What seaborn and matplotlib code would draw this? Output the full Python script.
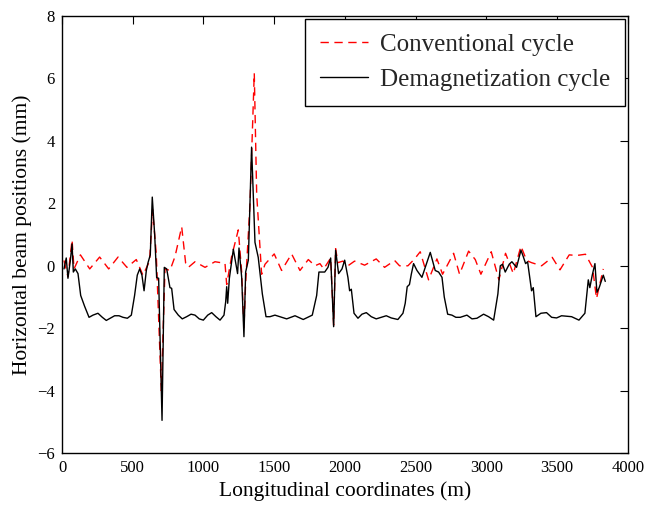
import matplotlib
matplotlib.use("Agg")
import matplotlib.pyplot as plt
import seaborn as sns
import pandas as pd

# Conventional cycle (red dashed)
conv_x = [14, 42, 71, 85, 130, 196, 266, 330, 396, 459, 525, 572, 619, 640, 666, 702,
          728, 763, 799, 846, 874, 893, 940, 1011, 1081, 1152, 1164, 1199, 1246, 1270, 1286,
          1298, 1329, 1359, 1376, 1411, 1435, 1500, 1552, 1623, 1682, 1741, 1788, 1823, 1850,
          1899, 1920, 1934, 1950, 1985, 2021, 2068, 2139, 2221, 2280, 2351, 2386, 2445, 2492,
          2532, 2591, 2650, 2690, 2768, 2810, 2874, 2921, 2961, 3034, 3088, 3135, 3190, 3244,
          3284, 3319, 3390, 3465, 3520, 3585, 3637, 3700, 3750, 3778, 3826]
conv_y = [0.17, -0.35, 0.83, -0.1, 0.35, -0.1, 0.28, -0.1, 0.28, -0.05, 0.2, -0.3, 0.15, 1.8, 0.4, -4.0,
          -0.1, -0.15, 0.3, 1.25, 0.08, -0.05, 0.13, -0.05, 0.13, 0.08, -0.6, 0.3, 1.15, -0.2, -2.0,
          -0.55, 2.0, 6.17, 2.3, -0.27, 0.05, 0.38, -0.15, 0.38, -0.15, 0.2, 0.0, 0.07, -0.1,
          0.25, -1.9, 0.55, 0.1, 0.15, 0.0, 0.15, 0.02, 0.22, -0.05, 0.17, 0.0, 0.0, 0.22,
          0.45, -0.45, 0.22, -0.27, 0.4, -0.27, 0.47, 0.2, -0.27, 0.45, -0.45, 0.4, -0.25, 0.63,
          0.17, 0.1, 0.0, 0.27, -0.13, 0.35, 0.33, 0.37, -0.05, -1.05, -0.1]

# Demagnetization cycle (black solid)
demag_x = [14, 30, 42, 59, 71, 80, 94, 113, 132, 160, 191, 219, 254, 285, 313, 344, 372, 403,
           431, 462, 490, 513, 532, 549, 565, 580, 596, 608, 624, 638, 655, 669, 683, 707,
           723, 740, 763, 775, 792, 822, 850, 881, 912, 940, 970, 999, 1030, 1058, 1088, 1117,
           1145, 1157, 1164, 1171, 1183, 1211, 1241, 1251, 1270, 1286, 1298, 1317, 1340, 1364,
           1387, 1416, 1442, 1470, 1505, 1540, 1588, 1647, 1705, 1769, 1800, 1816, 1857, 1880,
           1899, 1920, 1934, 1955, 1979, 1998, 2021, 2033, 2045, 2064, 2092, 2120, 2151, 2186,
           2221, 2257, 2292, 2327, 2374, 2410, 2426, 2440, 2456, 2469, 2485, 2509, 2544, 2603,
           2638, 2662, 2686, 2702, 2726, 2756, 2784, 2815, 2862, 2898, 2933, 2980, 3015, 3051,
           3081, 3098, 3114, 3133, 3161, 3180, 3213, 3244, 3260, 3277, 3291, 3319, 3331, 3350,
           3385, 3425, 3461, 3496, 3531, 3602, 3654, 3696, 3720, 3731, 3748, 3767, 3781, 3797,
           3826, 3840]
demag_y = [-0.1, 0.25, -0.4, 0.17, 0.7, -0.2, -0.1, -0.25, -0.95, -1.3, -1.65, -1.58, -1.52,
           -1.65, -1.75, -1.67, -1.6, -1.6, -1.65, -1.68, -1.58, -0.95, -0.3, -0.1, -0.3, -0.8,
           -0.15, 0.1, 0.35, 2.2, 1.0, -0.38, -0.4, -4.95,
           -0.05, -0.1, -0.7, -0.72, -1.4, -1.58, -1.7, -1.63, -1.55, -1.58, -1.7, -1.74, -1.58,
           -1.5, -1.63, -1.74, -1.58, -1.15, -0.67, -1.2, -0.4, 0.53, -0.25, 0.57, -0.37, -2.27,
           -0.2, 0.18, 3.8, 0.75, 0.27, -0.9, -1.63, -1.63, -1.58, -1.63, -1.7, -1.6, -1.72,
           -1.58, -0.95, -0.2, -0.2, -0.05, 0.25, -1.95, 0.5, -0.25, -0.1, 0.18, -0.37, -0.8,
           -0.75, -1.52, -1.68, -1.55, -1.5, -1.63, -1.7, -1.65, -1.6, -1.67, -1.72, -1.52,
           -1.2, -0.67, -0.6, -0.27, 0.07, -0.15, -0.37, 0.43, -0.15, -0.2, -0.37, -1.0, -1.55,
           -1.58, -1.65, -1.65, -1.58, -1.7, -1.68, -1.55, -1.63, -1.74, -0.9, 0.0, 0.05, -0.2,
           0.05, 0.13, -0.05, 0.5, 0.3, 0.07, 0.13, -0.8, -0.7, -1.63, -1.52, -1.5, -1.65, -1.67,
           -1.6, -1.63, -1.74, -1.52, -0.45, -0.7, -0.3, 0.07, -0.85, -0.7, -0.3, -0.5]

x_ticks = [0, 500, 1000, 1500, 2000, 2500, 3000, 3500, 4000]
y_ticks = [-6, -4, -2, 0, 2, 4, 6, 8]

sns.set_theme(style="white")
plt.rcParams["font.family"] = ["Liberation Serif", "DejaVu Serif"]
plt.rcParams["mathtext.fontset"] = "stix"

fig = plt.figure(figsize=(6.5, 5.08), dpi=100)
ax = fig.add_axes([0.0954, 0.108, 0.8706, 0.8605])

conv_df = pd.DataFrame({"x": conv_x, "y": conv_y})
demag_df = pd.DataFrame({"x": demag_x, "y": demag_y})

sns.lineplot(data=conv_df, x="x", y="y", ax=ax, color="red", linewidth=1.0,
             linestyle=(0, (6, 4)), sort=False, estimator=None, label="Conventional cycle")
sns.lineplot(data=demag_df, x="x", y="y", ax=ax, color="black", linewidth=1.0,
             sort=False, estimator=None, label="Demagnetization cycle")

ax.set_xlim(0, 4000)
ax.set_ylim(-6, 8)
ax.set_xticks(x_ticks)
ax.set_yticks(y_ticks)
ax.set_xticklabels([str(t) for t in x_ticks])
ax.set_yticklabels([str(t) if t >= 0 else "\u2212" + str(-t) for t in y_ticks])
ax.tick_params(direction="in", top=True, right=True, length=6, width=0.8,
               labelsize=12, colors="black", pad=5)
for s in ax.spines.values():
    s.set_color("black")
    s.set_linewidth(1.0)

ax.set_xlabel("Longitudinal coordinates (m)", fontsize=15.5, color="black", labelpad=4)
ax.set_ylabel("Horizontal beam positions (mm)", fontsize=15.5, color="black", labelpad=4)

leg = ax.legend(loc="upper right", fontsize=18, frameon=True, fancybox=False,
                edgecolor="black", framealpha=1, borderpad=0.6, handlelength=1.9,
                handletextpad=0.5, labelspacing=0.5, borderaxespad=0.1)
leg.get_frame().set_linewidth(1.0)

fig.savefig("out.png", dpi=100)
